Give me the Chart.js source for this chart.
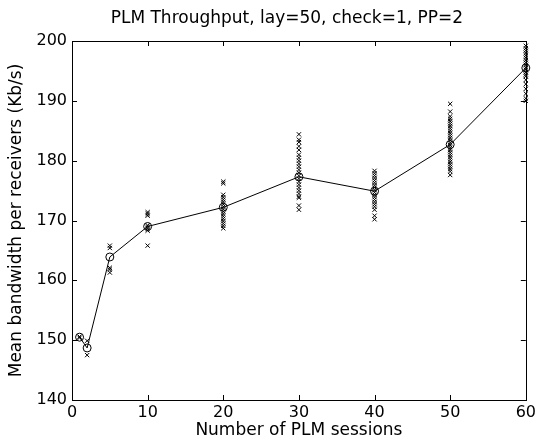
<!DOCTYPE html>
<html>
<head>
<meta charset="utf-8">
<script src="https://cdn.jsdelivr.net/npm/chart.js@4"></script>
<style>
  body { margin: 0; background: #fff; }
  canvas { display: block; }
</style>
</head>
<body>
<canvas id="plm-chart" width="539" height="447"></canvas>
<script>
// sessions and mean throughput (circles + line)
var sessions = [1, 2, 5, 10, 20, 30, 40, 50, 60];
var meanBw = [150.5, 148.7, 163.9, 169.0, 172.2, 177.3, 174.9, 182.7, 195.5];

// individual runs per session count (x markers)
var runs1 = [150.6, 150.4];
var runs2 = [149.9, 147.5];
var runs5 = [165.8, 165.4, 162.1, 161.8, 161.3];
var runs10 = [171.4, 171.1, 170.8, 169.2, 168.9, 168.6, 168.3, 165.8];
var runs20 = [176.5, 176.2, 174.3, 173.9, 173.5, 173.1, 172.7, 172.3, 171.9, 171.5, 171.1, 170.7, 170.3, 169.9, 169.5, 169.1, 168.7];
var runs30 = [184.4, 183.5, 183.1, 182.4, 181.8, 181.0, 180.5, 180.0, 179.5, 179.0, 178.5, 178.0, 177.5, 177.0, 176.5, 176.0, 175.5, 175.0, 174.5, 174.0, 173.8, 172.5, 171.8];
var runs40 = [178.3, 177.9, 177.5, 177.1, 176.7, 176.3, 175.9, 175.5, 175.1, 174.7, 174.3, 173.9, 173.5, 173.1, 172.7, 172.3, 171.8, 170.8, 170.2];
var runs50 = [189.5, 188.2, 187.4, 187.0, 186.6, 186.2, 185.8, 185.4, 185.0, 184.6, 184.2, 183.8, 183.4, 183.0, 182.6, 182.2, 181.8, 181.4, 181.0, 180.6, 180.2, 179.8, 179.4, 179.0, 178.6, 178.2, 177.6];
var runs60 = [199.2, 198.8, 198.4, 198.0, 197.6, 197.2, 196.8, 196.4, 196.0, 195.6, 195.2, 194.8, 194.4, 194.1, 193.5, 192.8, 192.0, 191.2, 190.4, 190.0];

var xTicks = [0, 10, 20, 30, 40, 50, 60];
var yTicks = [140, 150, 160, 170, 180, 190, 200];
var titleText = 'PLM Throughput, lay=50, check=1, PP=2';

var allRuns = [runs1, runs2, runs5, runs10, runs20, runs30, runs40, runs50, runs60];
var runPoints = [];
for (var i = 0; i < sessions.length; i++) {
  for (var j = 0; j < allRuns[i].length; j++) {
    runPoints.push({ x: sessions[i], y: allRuns[i][j] });
  }
}
var meanPoints = sessions.map(function (s, i) { return { x: s, y: meanBw[i] }; });

var FONT = "'DejaVu Sans', sans-serif";

// matlab style box with ticks pointing inwards, title centred over the axes
var boxPlugin = {
  id: 'matlabBox',
  afterDatasetsDraw: function (chart) {
    var c = chart.ctx, a = chart.chartArea;
    var xs = chart.scales.x, ys = chart.scales.y;
    var len = 5;
    c.save();
    c.strokeStyle = '#000';
    c.lineWidth = 1;
    c.beginPath();
    xTicks.forEach(function (t) {
      var px = Math.round(xs.getPixelForValue(t)) + 0.5;
      c.moveTo(px, a.bottom); c.lineTo(px, a.bottom - len);
      c.moveTo(px, a.top); c.lineTo(px, a.top + len);
    });
    yTicks.forEach(function (t) {
      var py = Math.round(ys.getPixelForValue(t)) + 0.5;
      c.moveTo(a.left, py); c.lineTo(a.left + len, py);
      c.moveTo(a.right, py); c.lineTo(a.right - len, py);
    });
    c.stroke();
    c.strokeRect(Math.round(a.left) + 0.5, Math.round(a.top) + 0.5,
      Math.round(a.right - a.left), Math.round(a.bottom - a.top));

    c.fillStyle = '#000';
    c.font = '17px ' + FONT;
    c.textAlign = 'center';
    c.textBaseline = 'middle';
    c.fillText(titleText, (a.left + a.right) / 2 - 12, 19);
    c.restore();
  }
};

new Chart(document.getElementById('plm-chart'), {
  type: 'scatter',
  data: {
    datasets: [
      {
        label: 'mean',
        type: 'line',
        data: meanPoints,
        borderColor: '#000',
        borderWidth: 1,
        backgroundColor: 'rgba(0,0,0,0)',
        pointStyle: 'circle',
        pointRadius: 4,
        pointBorderWidth: 1,
        pointBorderColor: '#000',
        pointBackgroundColor: 'rgba(0,0,0,0)',
        tension: 0,
        clip: false
      },
      {
        label: 'runs',
        data: runPoints,
        showLine: false,
        pointStyle: 'crossRot',
        pointRadius: 3,
        pointBorderWidth: 1,
        pointBorderColor: '#000',
        clip: false
      }
    ]
  },
  options: {
    responsive: false,
    animation: false,
    layout: { padding: { left: 0, right: 11, top: 41, bottom: 0 } },
    plugins: {
      legend: { display: false },
      tooltip: { enabled: false },
      title: { display: false }
    },
    scales: {
      x: {
        type: 'linear',
        min: 0,
        max: 60,
        grid: { display: false, drawTicks: false },
        border: { display: false },
        ticks: { stepSize: 10, color: '#000', padding: 3, font: { family: FONT, size: 16 } },
        title: {
          display: true,
          text: 'Number of PLM sessions',
          color: '#000',
          font: { family: FONT, size: 17 },
          padding: { top: 0, bottom: 6 }
        },
        afterFit: function (s) { s.height = 47; }
      },
      y: {
        min: 140,
        max: 200,
        grid: { display: false, drawTicks: false },
        border: { display: false },
        ticks: { stepSize: 10, color: '#000', padding: 5, font: { family: FONT, size: 16 } },
        title: {
          display: true,
          text: 'Mean bandwidth per receivers (Kb/s)',
          color: '#000',
          font: { family: FONT, size: 17 },
          padding: { top: 6, bottom: 0 }
        },
        afterFit: function (s) { s.width = 72; }
      }
    }
  },
  plugins: [boxPlugin]
});
</script>
</body>
</html>
